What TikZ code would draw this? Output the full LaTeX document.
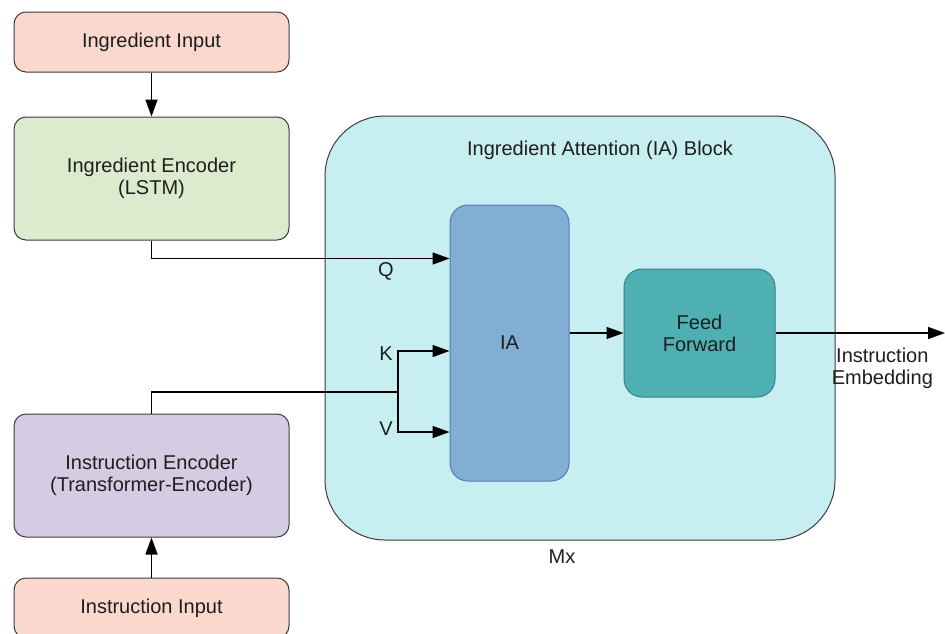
\documentclass[tikz,border=0pt]{standalone}
\usepackage{fontspec}
\setmainfont{Liberation Sans}
\usetikzlibrary{arrows.meta,positioning}

\definecolor{inputfill}{RGB}{250,216,206}
\definecolor{lstmfill}{RGB}{220,235,205}
\definecolor{transfill}{RGB}{213,204,228}
\definecolor{iablockfill}{RGB}{199,238,240}
\definecolor{iafill}{RGB}{131,174,211}
\definecolor{iadraw}{RGB}{82,124,182}
\definecolor{fffill}{RGB}{78,176,178}
\definecolor{ffdraw}{RGB}{52,132,134}
\definecolor{boxdraw}{RGB}{60,60,60}
\definecolor{txt}{RGB}{30,30,30}

\begin{document}
\begin{tikzpicture}[x=1pt,y=-1pt,node distance=44pt,
                    line width=1.5pt,font=\fontsize{20}{22}\selectfont,
                    every text node part/.style={align=center}]
  \tikzstyle{box}=[draw=boxdraw,line width=1pt,rounded corners=12pt,
                   minimum width=275pt,text=txt,inner sep=0pt]
  \tikzstyle{arrow}=[-{Triangle[length=17pt,width=12pt]}]
  \tikzstyle{lbl}=[text=txt,inner sep=1pt]

  \useasboundingbox (0,0) rectangle (945,633);

  % outer block first, so it sits behind
  \node[draw=boxdraw,line width=1pt,fill=iablockfill,rounded corners=60pt,
        minimum width=510pt,minimum height=424pt] (iab) at (580,328) {};
  \node[lbl] (iatitle) at (600,150) {Ingredient Attention (IA) Block};
  \node[lbl] (mx) at (562,557) {Mx};

  % left column
  \node[box,fill=inputfill,minimum height=60pt] (ingin) at (151.5,42) {Ingredient Input};
  \node[box,fill=lstmfill,minimum height=123pt] (ingenc) [below=44pt of ingin]
        {Ingredient Encoder\\(LSTM)};
  \node[box,fill=transfill,minimum height=123pt] (insenc) [below=173pt of ingenc]
        {Instruction Encoder\\(Transformer-Encoder)};
  \node[box,fill=inputfill,minimum height=60pt] (insin) [below=40pt of insenc]
        {Instruction Input};

  % inner blocks
  \node[draw=iadraw,line width=1pt,fill=iafill,rounded corners=18pt,
        minimum width=119pt,minimum height=276pt,text=txt] (ia) at (509.5,343) {IA};
  \node[draw=ffdraw,line width=1pt,fill=fffill,rounded corners=18pt,
        minimum width=151pt,minimum height=128pt,text=txt] (ff) at (699.5,333)
        {Feed\\Forward};

  \coordinate (kv) at (398,392);
  \coordinate (out) at (945,333);

  \draw[arrow] (ingin) -- (ingenc);
  \draw[arrow] (insin) -- (insenc);
  \draw[arrow] (ingenc.south) |- ([yshift=-54pt]ia.north west);
  \draw (insenc.north) |- (kv);
  \draw[arrow] (kv) |- ([yshift=-8pt]ia.west);
  \draw[arrow] (kv) |- ([yshift=-89pt]ia.west);
  \draw[arrow] (ia.east |- ff.west) -- (ff.west);
  \draw[arrow] (ff.east) -- (out);

  \node[lbl] (q) at (386,271) {Q};
  \node[lbl] (k) at (386,354) {K};
  \node[lbl] (v) at (386,429) {V};
  \node[lbl,anchor=north west,align=left] (emb) at (830,346)
        {Instruction\\Embedding};
\end{tikzpicture}
\end{document}
